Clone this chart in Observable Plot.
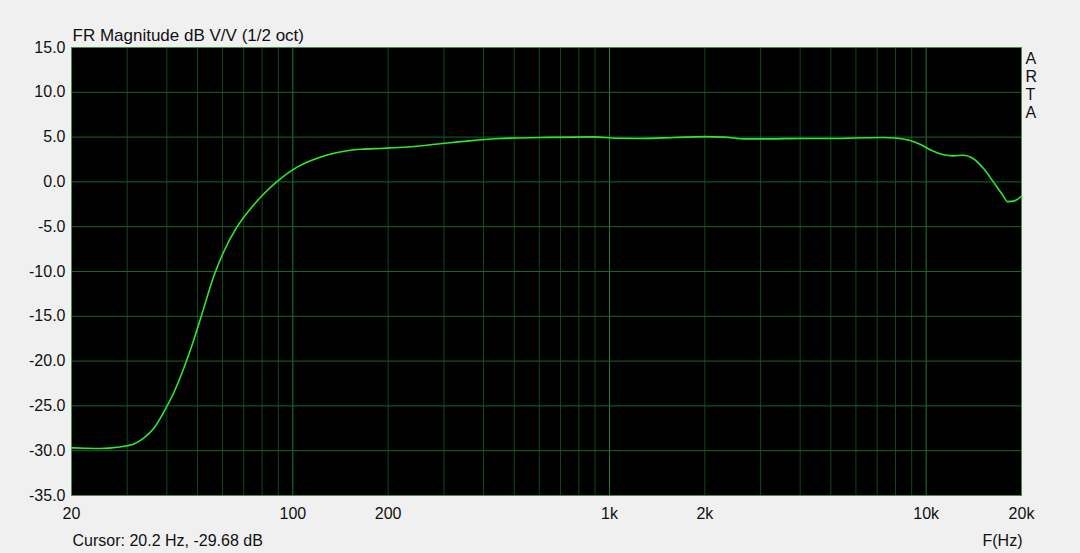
<!DOCTYPE html>
<html>
<head>
<meta charset="utf-8">
<script src="https://cdn.jsdelivr.net/npm/d3@7"></script>
<script src="https://cdn.jsdelivr.net/npm/@observablehq/plot@0.6"></script>
<style>
  html, body { margin: 0; padding: 0; background: #f0f0f0; }
  #chart svg { display: block; }
</style>
</head>
<body>
<div id="chart"></div>
<script>
// Frequency response (Hz, dB)
const freqs = [20, 22, 24.7, 28, 30, 31.5, 33.8, 36.4, 39.1, 42.1, 45.25, 48.6, 52.2, 56.3, 60.5, 66.7, 73.5, 80.9, 89.3, 101, 113.7, 128.3, 145, 164, 194, 230, 292, 373, 452, 605, 891, 1057, 1253, 1600, 2000, 2300, 2700, 3200, 4000, 5000, 6000, 7300, 8000, 8900, 9600, 10300, 11350, 12200, 13100, 14100, 15200, 16300, 17400, 18100, 18900, 20000];
const dbValues = [-29.68, -29.72, -29.75, -29.62, -29.44, -29.25, -28.6, -27.5, -25.7, -23.5, -20.8, -17.7, -14.2, -10.5, -7.8, -5.0, -3.0, -1.35, 0.05, 1.45, 2.35, 3.0, 3.42, 3.65, 3.75, 3.89, 4.26, 4.63, 4.85, 4.95, 5.03, 4.87, 4.85, 4.95, 5.05, 5.0, 4.8, 4.8, 4.85, 4.85, 4.9, 4.95, 4.9, 4.62, 4.17, 3.58, 3.02, 2.9, 2.98, 2.58, 1.46, 0.0, -1.4, -2.2, -2.15, -1.6];

const xTicks = [20, 50, 100, 200, 500, 1000, 2000, 5000, 10000, 20000];
const xTickLabels = ["20", "50", "100", "200", "500", "1k", "2k", "5k", "10k", "20k"];
const majorGrid = [100, 1000, 10000];
const minorGrid = [30, 40, 50, 60, 70, 80, 90, 200, 300, 400, 500, 600, 700, 800, 900, 2000, 3000, 4000, 5000, 6000, 7000, 8000, 9000];
const yTicks = [-35, -30, -25, -20, -15, -10, -5, 0, 5, 10, 15];

const title = "FR Magnitude dB V/V (1/2 oct)";
const cursorText = "Cursor: 20.2 Hz, -29.68 dB";
const xLabel = "F(Hz)";
const brand = ["A", "R", "T", "A"];

const data = freqs.map((f, i) => ({f, db: dbValues[i]}));

const chart = Plot.plot({
  width: 1080,
  height: 553,
  marginLeft: 71,
  marginRight: 59,
  marginTop: 47,
  marginBottom: 58,
  style: {background: "#f0f0f0", fontFamily: "'Liberation Sans', Arial, sans-serif", fontSize: "16px", color: "#111"},
  x: {type: "log", domain: [20, 20000]},
  y: {domain: [-35, 15]},
  marks: [
    Plot.frame({fill: "black"}),
    Plot.ruleX(minorGrid, {stroke: "#0e4a1a", strokeWidth: 1}),
    Plot.ruleX(majorGrid, {stroke: "#1f7a30", strokeWidth: 1}),
    Plot.ruleY(yTicks.slice(1, -1), {stroke: "#17662a", strokeWidth: 1}),
    Plot.frame({stroke: "#4a8a4a", strokeWidth: 1}),
    Plot.line(data, {x: "f", y: "db", stroke: "#2ee82e", strokeWidth: 1.6, curve: "monotone-x"}),
    Plot.axisY(yTicks, {tickSize: 0, tickPadding: 6, tickFormat: d => d.toFixed(1), fontSize: 16, label: null}),
    Plot.axisX(xTicks, {tickSize: 0, tickPadding: 12, tickFormat: d => xTickLabels[xTicks.indexOf(d)], fontSize: 16, label: null}),
    Plot.text([title], {frameAnchor: "top-left", text: d => d, textAnchor: "start", lineAnchor: "bottom", dx: 1, dy: -7, fontSize: 17, fill: "#111"}),
    Plot.text([cursorText], {frameAnchor: "bottom-left", text: d => d, textAnchor: "start", lineAnchor: "bottom", dx: 1, dy: 50, fontSize: 16, fill: "#111"}),
    Plot.text([xLabel], {frameAnchor: "bottom-right", text: d => d, textAnchor: "end", lineAnchor: "bottom", dx: 1, dy: 50, fontSize: 16, fill: "#111"}),
    ...brand.map((letter, i) => Plot.text([letter], {frameAnchor: "top-right", text: d => d, textAnchor: "start", lineAnchor: "middle", dx: 4, dy: 11 + i * 18, fontSize: 16, fill: "#111"}))
  ]
});
document.getElementById("chart").appendChild(chart);
</script>
</body>
</html>
